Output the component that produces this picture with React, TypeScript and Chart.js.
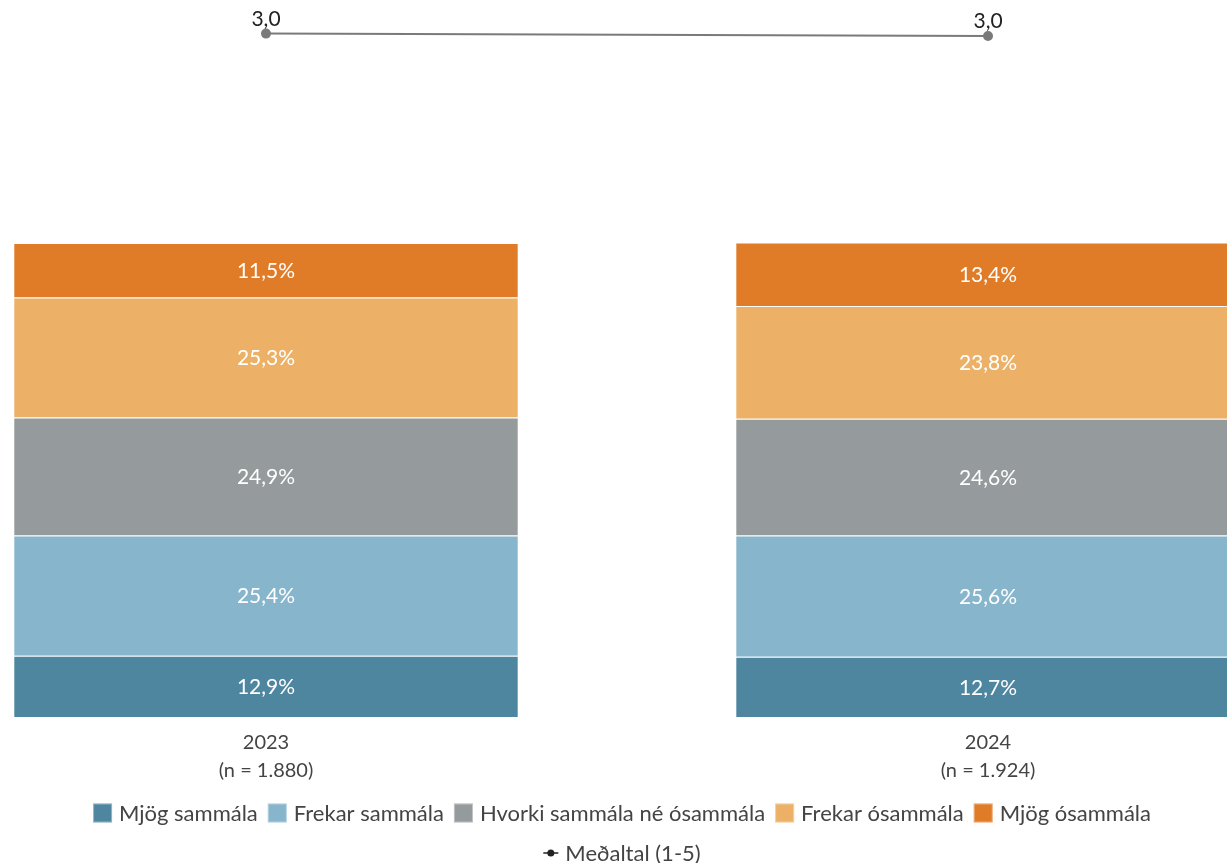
import React, { useEffect, useRef } from 'react';
import { Chart, registerables } from 'chart.js';

Chart.register(...registerables);

// ---------- data ----------
const years = ['2023', '2024'];
const sampleSizes = ['(n = 1.880)', '(n = 1.924)'];
const xIndex = [0, 1];
const seriesNames = [
  'Mjög sammála',
  'Frekar sammála',
  'Hvorki sammála né ósammála',
  'Frekar ósammála',
  'Mjög ósammála',
];
const mjogSammala = [12.9, 12.7];
const frekarSammala = [25.4, 25.6];
const hvorkiNe = [24.9, 24.6];
const frekarOsammala = [25.3, 23.8];
const mjogOsammala = [11.5, 13.4];
const medaltal = [3.03, 3.0];
const medaltalLabel = 'Meðaltal (1-5)';
const seriesColors = ['#4e86a0', '#87b5cc', '#959b9c', '#ecb166', '#e07c27'];
const lineColor = '#7a7a7a';

const barSeries = [mjogSammala, frekarSammala, hvorkiNe, frekarOsammala, mjogOsammala];

const FONT = 'Lato, "Noto Sans", sans-serif';
const fmt = (v: number, d: number) => v.toFixed(d).replace('.', ',');

const barLabelPlugin = {
  id: 'barLabels',
  afterDatasetsDraw(chart: any) {
    const ctx = chart.ctx;
    ctx.save();
    ctx.textAlign = 'center';
    chart.data.datasets.forEach((ds: any, i: number) => {
      const meta = chart.getDatasetMeta(i);
      if (ds.type === 'line') {
        ctx.font = `21px ${FONT}`;
        ctx.fillStyle = '#222';
        ctx.textBaseline = 'bottom';
        meta.data.forEach((el: any, j: number) => {
          ctx.fillText(fmt(ds.data[j].y, 1), el.x, el.y - 4);
        });
      } else {
        ctx.font = `21px ${FONT}`;
        ctx.fillStyle = '#ffffff';
        ctx.textBaseline = 'middle';
        meta.data.forEach((el: any, j: number) => {
          const p = el.getProps(['x', 'y', 'base'], true);
          ctx.fillText(fmt(ds.data[j].y, 1) + '%', p.x, (p.y + p.base) / 2 + 1);
        });
      }
    });
    ctx.restore();
  },
};

const legendPlugin = {
  id: 'customLegend',
  afterDraw(chart: any) {
    const ctx = chart.ctx;
    ctx.save();
    ctx.font = `22px ${FONT}`;
    ctx.textBaseline = 'middle';
    ctx.textAlign = 'left';
    const box = 19;
    const lineSym = 15;
    const gapText = 7;
    const gapItem = 10;
    const center = 622;
    const rowsY = [chart.height - 50, chart.height - 10];
    const datasets = chart.data.datasets;
    const barItems = datasets.filter((d: any) => d.type !== 'line');
    const lineItems = datasets.filter((d: any) => d.type === 'line');
    [barItems, lineItems].forEach((items: any[], r: number) => {
      const widths = items.map(
        (it: any) => (it.type === 'line' ? lineSym : box) + gapText + ctx.measureText(it.label).width
      );
      const total = widths.reduce((a: number, b: number) => a + b, 0) + gapItem * (items.length - 1);
      let x = center - total / 2;
      const y = rowsY[r];
      items.forEach((it: any, i: number) => {
        let sym = box;
        if (it.type === 'line') {
          sym = lineSym;
          ctx.strokeStyle = '#222';
          ctx.lineWidth = 1.5;
          ctx.beginPath();
          ctx.moveTo(x, y);
          ctx.lineTo(x + sym, y);
          ctx.stroke();
          ctx.fillStyle = '#222';
          ctx.beginPath();
          ctx.arc(x + sym / 2, y, 3.5, 0, Math.PI * 2);
          ctx.fill();
        } else {
          ctx.fillStyle = it.backgroundColor;
          ctx.fillRect(x, y - box / 2, box, box);
          ctx.strokeStyle = 'rgba(255,255,255,0.4)';
          ctx.lineWidth = 1;
          ctx.strokeRect(x + 0.5, y - box / 2 + 0.5, box - 1, box - 1);
        }
        ctx.fillStyle = '#444';
        ctx.fillText(it.label, x + sym + gapText, y + 1);
        x += widths[i] + gapItem;
      });
    });
    ctx.restore();
  },
};

export default function App() {
  const ref = useRef<HTMLCanvasElement | null>(null);

  useEffect(() => {
    document.body.style.margin = '0';
    document.body.style.overflow = 'hidden';
    if (!ref.current) return;
    const datasets: any[] = barSeries.map((vals, i) => ({
      type: 'bar',
      label: seriesNames[i],
      data: xIndex.map((x, j) => ({ x, y: vals[j] })),
      backgroundColor: seriesColors[i],
      borderColor: 'rgba(255,255,255,0.4)',
      borderWidth: 1,
      stack: 's',
      yAxisID: 'y',
      xAxisID: 'x',
      categoryPercentage: 1,
      barPercentage: 0.7,
      order: 2,
    }));
    datasets.push({
      type: 'line',
      label: medaltalLabel,
      data: xIndex.map((x, j) => ({ x, y: medaltal[j] })),
      borderColor: lineColor,
      backgroundColor: lineColor,
      borderWidth: 2,
      pointRadius: 4,
      pointBackgroundColor: lineColor,
      pointBorderColor: lineColor,
      yAxisID: 'y2',
      xAxisID: 'x',
      order: 1,
      clip: false,
    });

    const chart = new Chart(ref.current, {
      type: 'bar',
      data: { datasets },
      plugins: [barLabelPlugin, legendPlugin],
      options: {
        animation: false,
        responsive: false,
        layout: { autoPadding: false, padding: { top: 0, left: 0, right: 0, bottom: 66 } },
        plugins: {
          legend: { display: false },
          tooltip: { enabled: false },
        },
        scales: {
          x: {
            type: 'linear',
            min: -0.3684,
            max: 1.331,
            offset: false,
            stacked: true,
            grid: { display: false, drawTicks: false },
            border: { display: false },
            afterBuildTicks: (scale: any) => {
              scale.ticks = xIndex.map((v) => ({ value: v }));
            },
            ticks: {
              padding: 12,
              color: '#444',
              font: { family: FONT, size: 20, lineHeight: 1.4 },
              callback: (_v: any, i: number) => [years[i], sampleSizes[i]],
            },
          },
          y: {
            stacked: true,
            min: 0,
            max: 151.27,
            display: false,
          },
          y2: {
            min: -5.5125,
            max: 3.45,
            display: false,
          },
        },
      } as any,
    });
    return () => chart.destroy();
  }, []);

  return (
    <div style={{ width: 1227, height: 863 }}>
      <canvas ref={ref} width={1227} height={863} style={{ display: 'block' }} />
    </div>
  );
}
